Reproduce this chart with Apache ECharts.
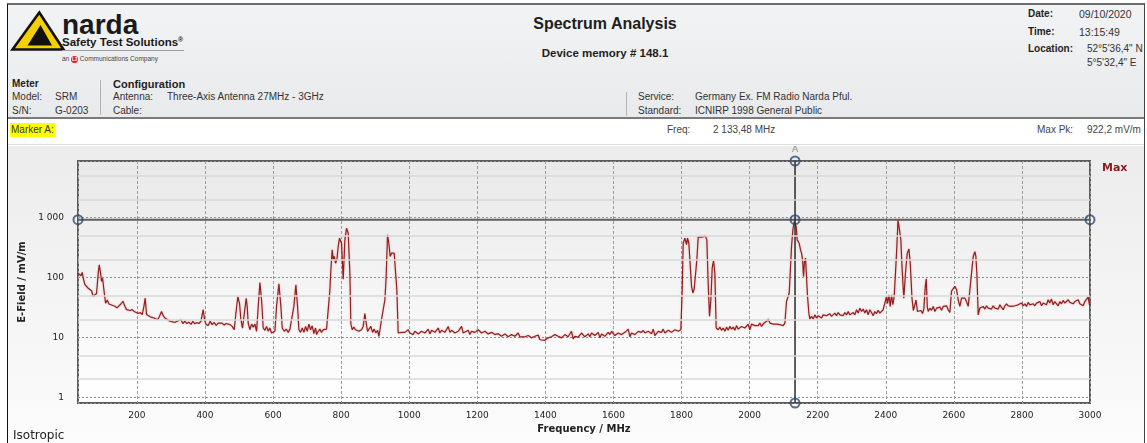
<!DOCTYPE html>
<html>
<head>
<meta charset="utf-8">
<title>Spectrum Analysis</title>
<script src="https://cdn.jsdelivr.net/npm/echarts@6/dist/echarts.min.js"></script>
<style>
  html, body { margin: 0; padding: 0; }
  body { width: 1147px; height: 443px; overflow: hidden; background: #fff; position: relative;
         font-family: "Liberation Sans", Arial, sans-serif; font-size: 10px; color: #333; }
  .t { position: absolute; white-space: nowrap; line-height: 12px; }
  .b { font-weight: bold; color: #1e1e1e; }
  #frame { position: absolute; left: 7px; top: 3px; width: 1138px; height: 440px; box-sizing: border-box;
           border-left: 1px solid #111; border-top: 2px solid #6d6d6d; border-right: 1px solid #444; }
  #head { position: absolute; left: 8px; top: 5px; width: 1136px; height: 112px;
          background: linear-gradient(#f2f3f4, #e9eaeb); border-bottom: 2px solid #7a7a7a; }
  #markrow { position: absolute; left: 8px; top: 119px; width: 1136px; height: 25px; background: #fff;
             border-bottom: 1px solid #dcdcdc; }
  #chart { position: absolute; left: 8px; top: 146px; width: 1136px; height: 297px;
           background: linear-gradient(#ececec, #fcfcfc); }
  .sep { position: absolute; width: 1px; background: #b5b5b5; }
</style>
</head>
<body>
<div id="frame"></div>
<div id="head"></div>
<div id="markrow"></div>
<div id="chart"></div>

<!-- logo -->
<svg style="position:absolute;left:10px;top:10px" width="56" height="42" viewBox="0 0 56 42">
  <polygon points="29.3,2.5 53.5,39.5 2.5,39.5" fill="#f4d000" stroke="#111" stroke-width="2.6" stroke-linejoin="miter"/>
  <polygon points="30.5,15 42,35.5 17.5,35.5" fill="#111"/>
</svg>
<div class="t" style="left:62px;top:11px;font-size:28px;line-height:28px;font-weight:bold;color:#1a1a1a">narda</div>
<div class="t" style="left:62px;top:35px;font-size:11.5px;line-height:14px;font-weight:bold;color:#1a1a1a">Safety Test Solutions<span style="font-size:7px;vertical-align:top;position:relative;top:-2px">&reg;</span></div>
<div style="position:absolute;left:62px;top:50px;width:122px;height:1px;background:#a0a0a0"></div>
<div class="t" style="left:62px;top:55px;font-size:6.5px;line-height:8px;color:#444">an <span style="display:inline-block;width:7px;height:7px;border-radius:50%;background:#d8262a;color:#fff;font-size:4.5px;line-height:7px;text-align:center;vertical-align:middle;font-weight:bold">L3</span> Communications Company</div>

<!-- meter / configuration -->
<div class="t b" style="left:12px;top:78px">Meter</div>
<div class="t" style="left:12px;top:91px">Model:</div>
<div class="t" style="left:55px;top:91px">SRM</div>
<div class="t" style="left:12px;top:105px">S/N:</div>
<div class="t" style="left:55px;top:105px">G-0203</div>
<div class="sep" style="left:100px;top:80px;height:35px"></div>
<div class="t b" style="left:113px;top:78px;font-size:11px">Configuration</div>
<div class="t" style="left:113px;top:91px">Antenna:</div>
<div class="t" style="left:167px;top:91px">Three-Axis Antenna 27MHz - 3GHz</div>
<div class="t" style="left:113px;top:105px">Cable:</div>

<div class="sep" style="left:626px;top:92px;height:24px"></div>
<div class="t" style="left:638px;top:91px">Service:</div>
<div class="t" style="left:695px;top:91px">Germany Ex. FM Radio Narda Pful.</div>
<div class="t" style="left:638px;top:105px">Standard:</div>
<div class="t" style="left:695px;top:105px">ICNIRP 1998 General Public</div>

<!-- title -->
<div class="t b" style="left:455px;width:300px;text-align:center;top:15px;font-size:16px;line-height:18px">Spectrum Analysis</div>
<div class="t b" style="left:455px;width:300px;text-align:center;top:46px;font-size:11.5px;line-height:14px">Device memory # 148.1</div>

<!-- date block -->
<div class="t b" style="left:1028px;top:8px">Date:</div>
<div class="t" style="left:1079px;top:8px;font-size:10.5px">09/10/2020</div>
<div class="t b" style="left:1028px;top:26px">Time:</div>
<div class="t" style="left:1079px;top:26px;font-size:10.5px">13:15:49</div>
<div class="t b" style="left:1028px;top:43px">Location:</div>
<div class="t" style="left:1087px;top:43px">52°5'36,4" N</div>
<div class="t" style="left:1087px;top:57px">5°5'32,4" E</div>

<!-- marker row -->
<div class="t" style="left:10px;top:123px;height:14px;line-height:14px;background:#ffff00;padding:0 1px;color:#333">Marker A:</div>
<div class="t" style="left:667px;top:124px;color:#444">Freq:</div>
<div class="t" style="left:713px;top:124px;color:#444">2 133,48 MHz</div>
<div class="t" style="left:1037px;top:124px;color:#444">Max Pk:</div>
<div class="t" style="left:1087px;top:124px;color:#444">922,2 mV/m</div>

<script>
var freqRange = [27, 3000];
var fieldRange = [0.8, 8800];
var freqStep = 200;
var minorLevels = [2, 5, 20, 50, 200, 500, 2000, 5000];
var markerFreq = 2133.48;
var markerPeak = 922.2;

// Max trace, [MHz, mV/m]
var spectrum = [
  [27,118],[31.6,111],[35.5,107],[39.4,121],[42.4,97],[47.3,76],[52.2,71],[57.1,66],[62,62],[66.9,60],
  [71.7,48],[76.6,49],[81.5,54],[86.4,118],[89.4,162],[93.3,118],[96.2,86],[99.2,97],[103.1,62],[108,37],
  [112.9,42],[117.8,36],[123.6,38],[129.5,34],[135.4,33],[141.3,31],[147.1,30],[153,36],[158.9,40],[164.8,33],
  [169.6,29],[174.5,30],[180.4,28],[186.3,29],[192.2,27],[198,27.5],[203.9,25],[209.8,26],[215.7,24],[220.6,33],
  [224.5,45],[228.4,24],[233.3,25],[239.2,22],[245,23],[250.9,21],[256.8,20],[262.7,20.3],[268.5,24],[272.4,27],
  [277.3,23],[282.2,21],[288.1,20],[294,19],[299.9,18.5],[305.7,19],[311.6,17.7],[317.5,18.5],[323.3,17.3],[329.2,19.7],
  [335.1,17],[341,18.6],[346.8,17],[352.7,18],[358.6,16.5],[364.5,18.5],[370.3,16.8],[376.2,17.7],[382.1,17],[388,18.5],
  [391.9,24],[394.8,29],[398.7,19.7],[403.6,16.3],[409.5,15.8],[415.4,18.5],[421.2,16.3],[427.1,17.7],[433,15.8],[438.9,17.3],
  [444.7,16.1],[450.6,17.3],[456.5,16],[462.4,17],[468.2,15.8],[474.1,16.3],[480,15.2],[485.9,13.4],[490.8,25],[496.6,48],
  [501.5,37],[505.4,20],[510.3,14.2],[515.2,15],[521.1,45],[524,33],
  [527.1,17],[532,13.4],[536.9,16.6],[541.8,14.8],[546.7,16.6],[551.6,12.6],[556.5,32.8],[561.4,82],[566.3,42],[571.1,14.3],
  [576,13.1],[580.9,15.2],[585.8,12.6],[590.7,14.3],[595.6,11.8],[600.5,11.1],[605.4,12.6],[610.3,32.8],[617.2,78],[623,32.8],
  [627,14.3],[632.8,12.6],[638.7,13.7],[644.6,12.1],[649.5,13.7],[654.4,13.1],[661.2,32.8],[667.1,75],[672,32.8],[675.9,13.4],
  [680.8,12.1],[685.7,14.3],[690.6,12.1],[695.5,15.2],[700.4,12.6],[705.3,16.6],[710.2,13.4],[715.1,15.6],[720,11.5],[724.9,14.3],
  [727.8,11.1],[732.7,12.6],[737.6,13.7],[742.5,12.1],[747.4,13.4],[752.3,12.6],[757.2,13.7],[762,13.1],[767,62],[769.9,134],
  [773.8,289],[776.7,197],[779.7,224],[783.6,173],[787.5,197],[791.4,328],[795.3,452],[801.2,372],[806.1,93],[811,424],
  [815.9,663],[820.8,548],[825.7,118],[828.6,16.6],[832.5,13.4],[837.4,14.8],[842.3,13.4],[847.2,13.7],[852.1,12.6],[860,13.4],
  [864.8,15.2],[869.7,24.8],[873.7,17.3],[877.6,12.6],[882.5,11.8],[887.4,15.2],[892.3,12.1],[897.2,13.7],[902,11.8],[907,13.1],
  [910.9,10.4],[914.8,14.3],[918.7,19.7],[923.6,28.9],[928.5,42],[932.4,104],[936.3,514],[940.2,372],[944.1,224],[948,254],
  [952,240],[955.9,254],[959.8,240],[963.7,62],[967.6,11.8],[972.5,11.4],[977.4,12.1],[982.3,11.5],[987.2,12.1],[992.1,11.4],
  [997,13.4],[1001.9,11.8],[1006.8,12.6],[1011.7,11.1],[1016.6,12.6],
  [1026.5,11.4],[1036.3,12.6],[1046.1,11.8],[1055.9,13.7],[1060.8,11.4],[1065.7,13.1],[1075.4,12.1],[1085.2,14.3],[1090.1,11.8],[1095,13.1],
  [1104.8,12.1],[1114.6,15.2],[1119.5,12.1],[1124.4,13.1],[1134.2,11.8],[1144,12.6],[1153.8,15.2],[1158.7,11.8],[1163.6,12.1],[1173.3,13.1],
  [1178.2,11.1],[1183.1,12.6],[1192.9,12.1],[1202.7,13.4],[1212.5,11.8],[1222.3,12.6],[1232.1,11.4],[1241.9,12.1],[1251.7,11.1],[1261.5,11.5],
  [1271.2,10.4],[1281,11.4],[1290.8,10.2],[1300.6,11.1],[1310.4,10.4],[1320.2,11.8],[1325.1,10.2],[1330,10.9],[1339.8,10.2],[1349.6,10.7],
  [1359.4,9.8],[1369.1,10.4],[1378.9,10.9],[1383.8,9.1],[1388.7,9.8],[1398.5,8.9],[1408.3,9.8],[1418.1,10.2],[1427.9,11.1],[1437.7,10.4],
  [1447.5,9.8],[1457.3,11.1],[1467,10.2],[1476.8,12.6],[1481.7,9.4],[1486.6,10.4],[1496.4,10.1],[1506.2,11.8],[1516,10.2],
  [1525.9,11.4],[1530.8,10.2],[1535.7,11.8],[1545.5,10.7],[1555.3,12.1],[1560.2,9.8],[1565.1,11.4],[1574.8,10.4],[1584.6,12.1],[1589.5,11.1],
  [1594.4,12.6],[1604.2,10.7],[1614,11.8],[1623.8,11.1],[1633.6,12.1],[1643.4,13.7],[1648.3,10.2],[1653.2,11.8],[1663,11.1],[1672.7,12.6],
  [1682.5,12.1],[1687.4,13.1],[1692.3,11.8],[1702.1,12.6],[1711.9,11.5],[1716.8,13.7],[1721.7,10.7],[1731.5,12.6],[1741.3,12.1],[1746.2,13.7],
  [1751.1,11.8],[1760.9,13.1],[1770.6,12.1],[1780.4,13.4],[1790.2,12.6],[1798,13.4],[1802,62],[1804.9,372],[1809.8,452],[1814.7,353],
  [1817.6,452],[1821.5,372],[1825.5,353],[1829.4,71],[1833.3,55],[1837.2,64],[1841.1,62],[1845,197],[1849,470],[1853.9,480],
  [1858.8,470],[1863.6,480],[1870.5,490],[1874.4,424],[1878.3,81],[1882.2,22.4],[1886.2,42],[1890.1,145],[1894,190],[1897.9,118],
  [1901.8,14.3],[1907.7,13.4],[1912.6,14.8],[1917.5,13.1],[1922.4,14.3],[1927.3,12.6],[1932.2,14.8],[1937.1,13.1],[1942,15.2],[1946.9,13.7],
  [1951.8,14.8],[1956.7,13.1],[1961.5,15.7],[1966.4,13.7],[1976.2,15.2],[1986,14.3],[1995.8,16.6],[2000.7,13.4],[2005.6,16.6],[2015.4,15.7],
  [2025.3,15.7],[2030.2,17.3],[2035.1,15.2],[2040,16.8],[2044.9,17.7],[2049.8,18.5],[2054.7,20.2],[2059.6,17.3],[2064.5,18.5],[2069.3,16.6],
  [2074.2,17.7],[2079.1,16.6],[2084,17.3],[2088.9,16.3],[2093.8,17],[2098.7,15.7],[2103.6,17.3],[2108.5,40],[2113.4,48],[2116.3,55],
  [2120.3,152],[2123.2,328],[2127.1,622],[2131,860],[2133.5,922],[2136.9,708],[2139.8,424],[2142.8,452],[2145.7,372],[2149.6,289],
  [2152.6,254],[2155.5,197],[2158.4,104],[2161.4,185],[2164.3,210],[2167.2,197],[2170.2,48],[2174.1,25.4],[2177,20.2],[2181.9,22.4],
  [2186.8,20.2],[2191.7,23.7],[2196.6,21.1],[2201.5,23],[2206.4,22],[2211.3,21.1],[2216.2,23.7],[2221.1,22],[2226,23],[2230.9,22],
  [2235.8,24.8],[2240.7,22.4],[2245.6,23.7],[2250.5,25.4],[2255.4,23],[2260.3,26],[2265.1,23.7],[2270,25.4],[2274.9,23],[2279.8,26],
  [2284.7,23.7],[2289.6,27],[2294.5,23.7],[2299.4,25.4],[2304.3,26],[2309.2,23.7],[2314.1,28.9],[2319,25.4],[2323.9,30.7],[2328.8,27],
  [2333.7,29.6],[2338.6,25.4],[2343.5,28.9],[2348.4,23.7],[2353.3,28.9],[2358.2,26],[2363,23],[2367.9,27],[2372.8,24.8],[2377.7,28.3],
  [2382.6,25.4],[2387.5,26],[2392.4,28.9],[2397.3,30.7],[2402.2,48],[2405.1,37],[2409.1,51],[2413,32.8],[2416.9,51],[2420.8,35],
  [2424.7,48],[2428.6,118],[2432.6,328],[2436,900],[2440.4,622],[2444.3,424],[2448,140],[2453,45],[2458,120],[2463,250],
  [2468,300],[2472,170],[2477,45],[2481,28],[2485,30],[2489,42],[2493,27],[2498,26],[2503,28],[2508,25],
  [2512,30],[2516,70],[2519,95],[2522,32],
  [2524.7,27],[2529.6,30.7],[2534.5,28.3],[2539.4,32.8],[2544.3,27],[2549.2,30.7],[2554.1,28.9],[2559,32],[2563.9,28.3],[2568.7,32.8],
  [2573.6,30.7],[2578.5,33.6],[2583.4,28.9],[2588.3,26],[2593.2,59],[2598.1,56],[2603,71],[2607.9,63],[2612.8,42],[2617.7,32.8],
  [2622.6,45],[2627.5,43.5],[2632.4,45],[2637.3,39.5],[2642.2,32.8],[2647.1,33.6],[2652,118],[2656.9,224],[2661.8,269],[2664.7,224],
  [2667.6,118],[2671.5,23.7],[2676.4,30.7],[2681.3,28.9],[2686.2,32.8],[2691.1,29.6],[2696,33.6],[2700.9,30.7],[2705.8,32.8],[2710.7,29.6],
  [2715.6,33.6],[2720.5,30.7],[2725.4,32.8],[2730.3,29.6],[2735.2,34.9],[2740.1,31.6],[2745,28.9],[2749.9,33.6],[2754.8,36.3],[2759.7,33.6],
  [2764.5,34.9],[2769.4,32.8],[2774.3,34.9],[2779.2,33.6],[2784.1,32],[2789,34.9],[2793.9,32.8],[2798.8,37.3],[2803.7,33.6],[2808.6,36.3],
  [2813.5,32.8],[2818.4,38.3],[2823.3,34.9],[2828.2,32.8],[2833.1,36.3],[2838,33.6],[2842.9,37.3],[2847.8,34.9],[2852.7,39.5],[2857.6,33.6],
  [2862.5,37.3],[2867.3,39.5],[2872.2,34.9],[2877.1,42.4],[2882,37.3],[2886.9,43.5],[2891.8,34.9],[2896.7,39.5],[2901.6,37.3],[2906.5,33.6],
  [2911.4,39.5],[2916.3,36.3],[2921.2,41.3],[2926.1,37.3],[2931,39.5],[2935.9,42.4],[2940.8,38.3],[2945.7,39.5],[2950.6,36.3],[2955.5,39.5],
  [2960.4,37.3],[2965.3,42.4],[2970.1,36.3],[2975,38.3],[2979.9,33.6],[2984.8,39.5],[2989.7,42.4],[2994.6,47],[2998.5,34.9],[3000,40]
];

function isDecade(v) {
  var l = Math.log10(v);
  return Math.abs(l - Math.round(l)) < 1e-6;
}

var chart = echarts.init(document.getElementById('chart'));
chart.setOption({
  animation: false,
  textStyle: { fontFamily: 'DejaVu Sans' },
  grid: {
    left: 70, right: 54, top: 15, bottom: 40,
    show: true, borderColor: '#5a5a5a', borderWidth: 2,
    backgroundColor: { type: 'linear', x: 0, y: 0, x2: 0, y2: 1,
      colorStops: [{ offset: 0, color: '#e9e9e9' }, { offset: 1, color: '#ffffff' }] }
  },
  xAxis: {
    type: 'value', min: freqRange[0], max: freqRange[1],
    splitNumber: 15, minInterval: freqStep, maxInterval: freqStep,
    name: 'Frequency / MHz', nameLocation: 'middle', nameGap: 20,
    nameTextStyle: { fontWeight: 'bold', fontSize: 10, color: '#222' },
    axisLine: { show: false }, axisTick: { show: false },
    axisLabel: { fontSize: 9, color: '#222', margin: 8,
      formatter: function (v) { return v % freqStep === 0 ? String(v) : ''; } },
    splitLine: { lineStyle: { color: '#9a9a9a', type: [3, 2], width: 1 } }
  },
  yAxis: {
    type: 'log', logBase: 10, min: fieldRange[0], max: fieldRange[1],
    name: 'E-Field / mV/m', nameLocation: 'middle', nameGap: 50,
    nameTextStyle: { fontWeight: 'bold', fontSize: 10, color: '#222' },
    axisLine: { show: false }, axisTick: { show: false },
    axisLabel: { fontSize: 9, color: '#222', margin: 14,
      formatter: function (v) {
        if (!isDecade(v)) return '';
        return String(Math.round(v)).replace(/\B(?=(\d{3})+(?!\d))/g, ' ');
      } },
    splitLine: { lineStyle: { color: '#8f8f8f', type: [2, 2], width: 1 } }
  },
  graphic: [
    { type: 'text', left: 1094, top: 17, style: { text: 'Max', fill: '#8b1c1c', font: 'bold 11px "DejaVu Sans"' } },
    { type: 'text', left: 5, top: 284, style: { text: 'Isotropic', fill: '#222', font: '12px "DejaVu Sans"' } }
  ],
  series: [
    {
      name: 'minor', type: 'line', z: 1, silent: true, symbol: 'none',
      data: [[freqRange[0], minorLevels[0]]], lineStyle: { width: 0 },
      markLine: {
        silent: true, symbol: 'none', label: { show: false },
        lineStyle: { color: '#d8d8d8', width: 1.5, type: 'solid' },
        data: minorLevels.map(function (v) { return { yAxis: v }; })
      }
    },
    {
      name: 'level', type: 'line', z: 2, silent: true, symbol: 'none',
      data: [[freqRange[0], markerPeak], [freqRange[1], markerPeak]],
      lineStyle: { color: '#5f5f5f', width: 2 }
    },
    {
      name: 'Max', type: 'line', z: 3, showSymbol: false, data: spectrum,
      lineStyle: { color: '#961d1d', width: 1.2, shadowColor: 'rgba(180,60,60,0.35)', shadowBlur: 2 }
    },
    {
      name: 'marker', type: 'line', z: 4, silent: true, symbol: 'none',
      data: [[markerFreq, fieldRange[0]], [markerFreq, fieldRange[1]]],
      lineStyle: { color: '#2b2b2b', width: 1.5 }
    },
    {
      name: 'handles', type: 'scatter', z: 5, clip: false, silent: true, symbol: 'circle', symbolSize: 9,
      itemStyle: { color: 'rgba(255,255,255,0)', borderColor: '#2e4c6f', borderWidth: 2 },
      data: [
        [freqRange[0], markerPeak], [freqRange[1], markerPeak], [markerFreq, markerPeak],
        [markerFreq, fieldRange[0]],
        { value: [markerFreq, fieldRange[1]],
          label: { show: true, formatter: 'A', position: 'top', distance: 1, color: '#6b6b6b', fontSize: 9 } }
      ]
    }
  ]
});
</script>
</body>
</html>
